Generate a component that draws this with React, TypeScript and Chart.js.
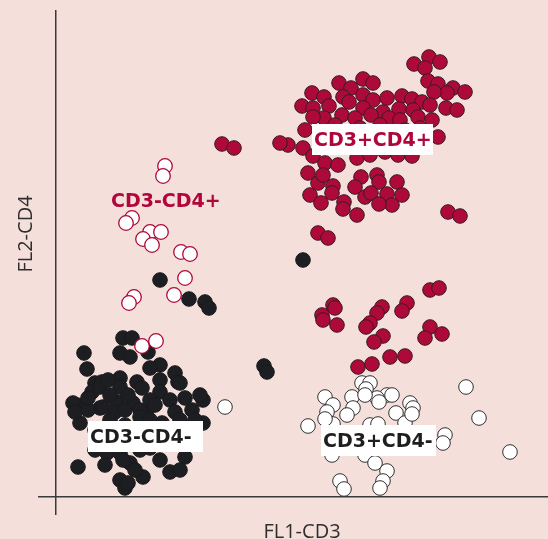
import { useEffect, useRef } from 'react';
import { Chart, registerables } from 'chart.js';

Chart.register(...registerables);

// ---- Text ----
const xAxisTitle = 'FL1-CD3';
const yAxisTitle = 'FL2-CD4';
const groupNames = ['CD3+CD4+', 'CD3-CD4+', 'CD3-CD4-', 'CD3+CD4-'];

// ---- Axis ranges (fluorescence units) ----
const xRange = [-18, 492];
const yRange = [-18, 487];

// ---- CD3+CD4+ (red) ----
const posPosX = [
  373, 384, 358, 369, 372, 382, 397, 409, 391, 378,
  283, 295, 307, 317, 256, 268, 246, 257, 273, 287, 293, 307, 317, 331, 346, 356, 366, 374, 390, 401,
  307, 327, 343, 357, 362, 315, 286, 268, 299, 333, 344, 376, 257, 249, 382,
  279, 304, 324, 349, 364,
  232, 224, 247, 257, 269, 282, 301, 314, 329, 342, 356,
  252, 262, 277, 267, 305, 321, 323, 299, 309, 315, 331, 341, 346, 336, 323,
  254, 265, 276, 288, 287, 301, 392, 404, 262, 272, 166, 178,
  277, 279, 266, 267, 281, 326, 321, 314, 310, 327, 318, 351, 346, 374, 383, 374, 386, 369, 334, 349, 302, 316,
];
const posPosY = [
  440, 435, 433, 429, 416, 413, 409, 405, 404, 405,
  414, 409, 418, 414, 404, 400, 391, 389, 391, 400, 395, 402, 397, 399, 401, 398, 395, 392, 389, 387,
  389, 385, 388, 387, 380, 382, 382, 379, 379, 379, 377, 377, 380, 367, 360,
  372, 369, 372, 367, 369,
  352, 354, 349, 341, 334, 332, 339, 342, 345, 342, 341,
  324, 314, 311, 322, 320, 322, 315, 310, 300, 304, 303, 315, 302, 292, 293,
  302, 294, 304, 295, 288, 282, 285, 281, 264, 259, 353, 349,
  192, 189, 182, 177, 172, 190, 184, 174, 170, 161, 155, 194, 186, 207, 209, 170, 163, 159, 140, 141, 130, 133,
];

// ---- CD3-CD4+ (white, red outline) ----
const negPosX = [109, 107, 76, 70, 94, 105, 87, 96, 125, 134, 129, 78, 73, 118, 86, 100];
const negPosY = [331, 321, 279, 274, 265, 265, 258, 252, 245, 243, 219, 200, 194, 202, 151, 156];

// ---- CD3-CD4- (black) ----
const negNegX = [
  247, 104, 133, 149, 153, 208, 211,
  67, 76, 64, 74, 92, 28, 31, 39, 46, 36, 64, 81, 86, 104, 119, 122, 104, 114,
  21, 24, 44, 61, 77, 91, 106, 119, 136, 147, 144, 147,
  22, 51, 64, 74, 87, 104, 114, 129, 131, 64, 69, 84, 41, 124, 84, 17, 19,
  44, 64, 47, 59, 69, 84, 39, 67, 72,
  54, 69, 84, 99, 39, 114, 54, 94, 59, 74, 32, 129, 124, 49, 94, 79, 124, 104, 94,
  99, 129, 72, 32, 139, 94, 52,
];
const negNegY = [
  237, 217, 198, 195, 189, 131, 125,
  159, 159, 144, 140, 145, 144, 128, 114, 115, 105, 119, 115, 109, 117, 124, 115, 105, 97,
  92, 74, 89, 95, 94, 87, 74, 85, 87, 97, 102, 74,
  30, 44, 44, 34, 20, 37, 25, 40, 52, 17, 9, 47, 50, 114, 87, 94, 85,
  110, 110, 90, 85, 87, 80, 47, 37, 14,
  77, 72, 67, 62, 67, 57, 102, 97, 57, 57, 87, 67, 77, 32, 49, 27, 27, 132, 129,
  92, 99, 102, 99, 77, 77, 117,
];

// ---- CD3+CD4- (white, dark outline) ----
const posNegX = [
  410, 423, 454, 252, 306, 314, 310, 269, 296, 277, 271, 331, 336, 321, 323, 354, 357, 297, 291, 340,
  349, 314, 322, 277, 389, 387, 276, 309, 319, 331, 327, 324, 284, 288, 269, 356, 309, 169,
];
const posNegY = [
  110, 79, 45, 71, 114, 114, 108, 100, 100, 92, 85, 102, 102, 99, 95, 94, 89, 89, 82, 84,
  74, 72, 73, 73, 62, 54, 42, 42, 34, 26, 16, 9, 16, 8, 78, 83, 102, 90,
];

// ---- Colours ----
const bgColor = '#f5dfdb';
const red = '#ad0a3a';
const redText = '#b0063b';
const darkFill = '#1d1e22';
const axisColor = '#3a3a3a';

// ---- Group labels: box corner in data units, size in px ----
const labelDefs = [
  { text: groupNames[0], x: 256, y: 373, w: 121, h: 31, color: redText, box: true },
  { text: groupNames[1], x: 55, y: 312, w: 0, h: 0, color: redText, box: false },
  { text: groupNames[2], x: 32, y: 76, w: 115, h: 31, color: '#1e1e1e', box: true },
  { text: groupNames[3], x: 265, y: 72, w: 115, h: 31, color: '#1e1e1e', box: true },
];

const toPoints = (xs: number[], ys: number[]) => xs.map((x, i) => ({ x, y: ys[i] }));

const overlayPlugin = {
  id: 'overlay',
  beforeDraw(chart: any) {
    const { ctx, width, height } = chart;
    ctx.save();
    ctx.fillStyle = bgColor;
    ctx.fillRect(0, 0, width, height);
    ctx.restore();
  },
  afterDatasetsDraw(chart: any) {
    const { ctx } = chart;
    const xs = chart.scales.x;
    const ys = chart.scales.y;
    ctx.save();
    ctx.font = 'bold 19px "DejaVu Sans"';
    ctx.textBaseline = 'alphabetic';
    ctx.textAlign = 'left';
    for (const l of labelDefs) {
      const px = xs.getPixelForValue(l.x);
      const py = ys.getPixelForValue(l.y);
      if (l.box) {
        ctx.fillStyle = '#ffffff';
        ctx.fillRect(px, py, l.w, l.h);
        ctx.fillStyle = l.color;
        ctx.fillText(l.text, px + 2, py + 22);
      } else {
        ctx.fillStyle = l.color;
        ctx.fillText(l.text, px, py + 22);
      }
    }
    // axis titles
    ctx.fillStyle = '#2e2e2e';
    ctx.font = '20px "Open Sans"';
    ctx.textAlign = 'center';
    const area = chart.chartArea;
    ctx.fillText(xAxisTitle, (xs.getPixelForValue(0) + area.right) / 2, 538);
    ctx.translate(32, 234);
    ctx.rotate(-Math.PI / 2);
    ctx.fillText(yAxisTitle, 0, 0);
    ctx.restore();
  },
};

const zeroOnly = (axis: any) => {
  axis.ticks = [{ value: 0 }];
};

export default function App() {
  const ref = useRef<HTMLCanvasElement | null>(null);
  useEffect(() => {
    if (!ref.current) return;
    const common = { pointRadius: 7.3, pointHoverRadius: 7.3, showLine: false, clip: false as any };
    const chart = new Chart(ref.current, {
      type: 'scatter',
      data: {
        datasets: [
          {
            label: groupNames[1],
            data: toPoints(negPosX, negPosY),
            backgroundColor: '#ffffff',
            borderColor: red,
            borderWidth: 1.3,
            order: 0,
            ...common,
          },
          {
            label: groupNames[2],
            data: toPoints(negNegX, negNegY),
            backgroundColor: darkFill,
            borderColor: '#1a1a1d',
            borderWidth: 1,
            order: 1,
            ...common,
          },
          {
            label: groupNames[0],
            data: toPoints(posPosX, posPosY),
            backgroundColor: red,
            borderColor: '#3a1a22',
            borderWidth: 1,
            order: 2,
            ...common,
          },
          {
            label: groupNames[3],
            data: toPoints(posNegX, posNegY),
            backgroundColor: '#ffffff',
            borderColor: '#303030',
            borderWidth: 1,
            order: 3,
            ...common,
          },
        ],
      },
      options: {
        responsive: false,
        animation: false,
        devicePixelRatio: 1,
        events: [],
        layout: { autoPadding: false, padding: { left: 38, top: 10, right: 0, bottom: 24 } },
        plugins: { legend: { display: false }, tooltip: { enabled: false } },
        scales: {
          x: {
            type: 'linear',
            min: xRange[0],
            max: xRange[1],
            afterBuildTicks: zeroOnly,
            ticks: { display: false },
            border: { display: false },
            grid: { color: axisColor, lineWidth: 1.5, drawTicks: false },
          },
          y: {
            type: 'linear',
            min: yRange[0],
            max: yRange[1],
            afterBuildTicks: zeroOnly,
            ticks: { display: false },
            border: { display: false },
            grid: { color: axisColor, lineWidth: 1.5, drawTicks: false },
          },
        },
      },
      plugins: [overlayPlugin],
    });
    return () => chart.destroy();
  }, []);
  return (
    <div style={{ position: 'absolute', left: 0, top: 0, width: 548, height: 539 }}>
      <canvas ref={ref} width={548} height={539} />
    </div>
  );
}
